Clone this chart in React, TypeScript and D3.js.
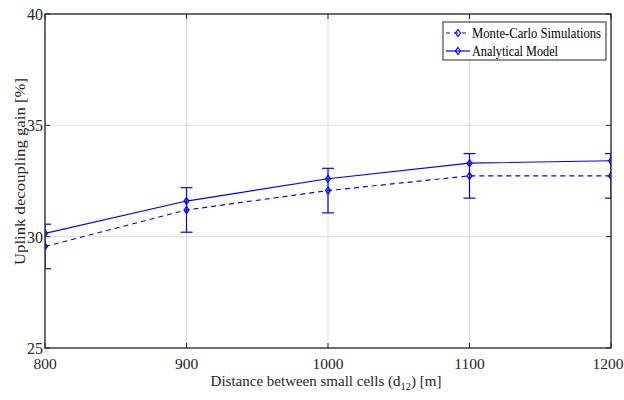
import React from "react";
import * as d3 from "d3";

const distances = [800, 900, 1000, 1100, 1200];
const monteCarlo = [29.56, 31.2, 32.07, 32.73, 32.73];
const analytical = [30.15, 31.6, 32.6, 33.3, 33.41];
const mcError = [1, 1, 1, 1, 1];
const xTicks = [800, 900, 1000, 1100, 1200];
const yTicks = [25, 30, 35, 40];

const W = 624, H = 400;
const M = { left: 45, right: 13, top: 14, bottom: 52 };
const FONT = "Liberation Serif";
const BLUE = "#0000ff";
const AXIS = "#262626";
const TS = { fontFamily: FONT };

export default function App() {
  const x = d3.scaleLinear().domain([800, 1200]).range([M.left, W - M.right]);
  const y = d3.scaleLinear().domain([25, 40]).range([H - M.bottom, M.top]);
  const line = d3.line<number>().x((_, i) => x(distances[i])).y((d) => y(d));
  const x0 = M.left, x1 = W - M.right, y0 = M.top, y1 = H - M.bottom;

  const diamond = (cx: number, cy: number, k: string) => (
    <path key={k} d={`M${cx},${cy - 3.5}L${cx + 2.5},${cy}L${cx},${cy + 3.5}L${cx - 2.5},${cy}Z`}
      fill="none" stroke={BLUE} strokeWidth={1.2} />
  );

  return (
    <svg width={W} height={H} style={{ position: "absolute", left: 0, top: 0, background: "#fff" }}>
      <defs>
        <clipPath id="plot"><rect x={x0} y={y0} width={x1 - x0} height={y1 - y0} /></clipPath>
      </defs>
      <rect x={0} y={0} width={W} height={H} fill="#fff" />
      {xTicks.map((t) => (
        <line key={"gx" + t} x1={x(t)} x2={x(t)} y1={y0} y2={y1} stroke="#dedede" strokeWidth={1} />
      ))}
      {yTicks.map((t) => (
        <line key={"gy" + t} x1={x0} x2={x1} y1={y(t)} y2={y(t)} stroke="#dedede" strokeWidth={1} />
      ))}
      <g clipPath="url(#plot)">
        {distances.map((dv, i) => {
          const cx = x(dv);
          const top = y(monteCarlo[i] + mcError[i]);
          const bot = y(monteCarlo[i] - mcError[i]);
          return (
            <g key={"e" + i} stroke={BLUE} strokeWidth={1.2}>
              <line x1={cx} x2={cx} y1={top} y2={bot} />
              <line x1={cx - 6} x2={cx + 6} y1={top} y2={top} />
              <line x1={cx - 6} x2={cx + 6} y1={bot} y2={bot} />
            </g>
          );
        })}
        <path d={line(monteCarlo) || ""} fill="none" stroke={BLUE} strokeWidth={1.2} strokeDasharray="5,4" />
        <path d={line(analytical) || ""} fill="none" stroke={BLUE} strokeWidth={1.2} />
        {monteCarlo.map((v, i) => diamond(x(distances[i]), y(v), "m" + i))}
        {analytical.map((v, i) => diamond(x(distances[i]), y(v), "a" + i))}
      </g>
      <rect x={x0} y={y0} width={x1 - x0} height={y1 - y0} fill="none" stroke={AXIS} strokeWidth={1.3} />
      {xTicks.map((t) => (
        <g key={"tx" + t}>
          <line x1={x(t)} x2={x(t)} y1={y1} y2={y1 - 5} stroke={AXIS} />
          <line x1={x(t)} x2={x(t)} y1={y0} y2={y0 + 5} stroke={AXIS} />
          <text x={Math.min(x(t), W - 16)} y={y1 + 21} textAnchor="middle" fontSize={15.5} fill={AXIS} style={TS}>{t}</text>
        </g>
      ))}
      {yTicks.map((t) => (
        <g key={"ty" + t}>
          <line x1={x0} x2={x0 + 5} y1={y(t)} y2={y(t)} stroke={AXIS} />
          <line x1={x1} x2={x1 - 5} y1={y(t)} y2={y(t)} stroke={AXIS} />
          <text x={x0 - 2} y={y(t) + 6} textAnchor="end" fontSize={16} fill={AXIS} style={TS}>{t}</text>
        </g>
      ))}
      <text x={326} y={386} textAnchor="middle" fontSize={15} fill={AXIS} style={TS}>
        Distance between small cells (d<tspan fontSize={10.5} dy={4}>12</tspan><tspan dy={-4}>) [m]</tspan>
      </text>
      <text transform={`translate(25,171.5) rotate(-90)`} textAnchor="middle" fontSize={15.5} fill={AXIS} style={TS}
        textLength={187} lengthAdjust="spacingAndGlyphs">
        Uplink decoupling gain [%]
      </text>
      <g>
        <rect x={443} y={22} width={163} height={38} fill="#fff" stroke={AXIS} strokeWidth={1} />
        <line x1={446} x2={470} y1={33} y2={33} stroke={BLUE} strokeWidth={1.2} strokeDasharray="4,4" />
        {diamond(458, 33, "lg1")}
        <text x={472} y={38} fontSize={14.5} fill="#000" style={TS} textLength={129} lengthAdjust="spacingAndGlyphs">Monte-Carlo Simulations</text>
        <line x1={446} x2={470} y1={51} y2={51} stroke={BLUE} strokeWidth={1.2} />
        {diamond(458, 51, "lg2")}
        <text x={472} y={56} fontSize={14.5} fill="#000" style={TS} textLength={86} lengthAdjust="spacingAndGlyphs">Analytical Model</text>
      </g>
    </svg>
  );
}
